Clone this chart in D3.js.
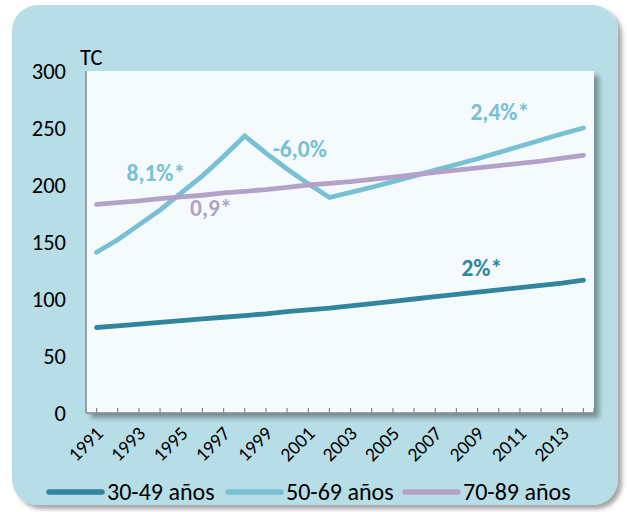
<!DOCTYPE html>
<html><head><meta charset="utf-8">
<script src="https://cdn.jsdelivr.net/npm/d3@7"></script>
<style>
html,body{margin:0;padding:0;background:#fff;}
svg{display:block;font-family:Carlito, Calibri, Lato, sans-serif;}
</style></head>
<body>
<svg id="chart" width="627" height="512"></svg>
<script>
const years = d3.range(1991, 2015);
const tickLabels = ["1991","1993","1995","1997","1999","2001","2003","2005","2007","2009","2011","2013"];
const yTicks = [0, 50, 100, 150, 200, 250, 300];
const seriesNames = ["30-49 años", "50-69 años", "70-89 años"];
const seriesColors = ["#31859c", "#78c0d4", "#b3a2c7"];
const s3049 = [75, 76.5, 78, 79.5, 81, 82.5, 84, 85.5, 87, 89, 90.5, 92, 94, 96, 98, 100, 102, 104, 106, 108, 110, 112, 114, 116.5];
const s5069 = [141, 152, 165, 178, 193, 208, 225, 243, 228, 214, 201, 189, 193.5, 198, 203, 208, 213, 218, 223, 228.5, 234, 239.5, 245, 250];
const s7089 = [183, 184.5, 186, 188, 189.5, 191, 193, 194.5, 196, 198, 200, 201.5, 203, 205, 207, 209, 211, 213, 215, 217, 219, 221, 223.5, 226];
const annotations = [
  {text: "8,1%*", year: 1993.8, value: 211, series: 1},
  {text: "0,9*", year: 1996.4, value: 180, series: 2},
  {text: "-6,0%", year: 2000.6, value: 232, series: 1},
  {text: "2,4%*", year: 2010.05, value: 264, series: 1},
  {text: "2%*", year: 2009.2, value: 127, series: 0}
];

const svg = d3.select("#chart");
const defs = svg.append("defs");
const f1 = defs.append("filter").attr("id","sh").attr("x","-5%").attr("y","-5%").attr("width","115%").attr("height","115%");
f1.append("feDropShadow").attr("dx",4).attr("dy",4).attr("stdDeviation",2).attr("flood-color","#000").attr("flood-opacity",0.35);
const f2 = defs.append("filter").attr("id","sh2").attr("x","-5%").attr("y","-5%").attr("width","115%").attr("height","115%");
f2.append("feDropShadow").attr("dx",5).attr("dy",5).attr("stdDeviation",2.5).attr("flood-color","#000").attr("flood-opacity",0.35);

// outer panel
svg.append("rect").attr("x",12).attr("y",5).attr("width",606).attr("height",500)
  .attr("rx",26).attr("ry",26).attr("fill","#b7dde6").attr("filter","url(#sh)");

const L = 86, R = 594, T = 71, B = 413;
svg.append("rect").attr("x",L).attr("y",T).attr("width",R-L).attr("height",B-T)
  .attr("fill","#f5fbfc").attr("filter","url(#sh2)");

const x = d3.scalePoint().domain(years).range([L, R]).padding(0.5);
const y = d3.scaleLinear().domain([0, 300]).range([B, T]);

// axes lines
svg.append("line").attr("x1",L).attr("x2",L).attr("y1",T).attr("y2",B).attr("stroke","#868686").attr("stroke-width",1.5);
svg.append("line").attr("x1",L).attr("x2",R).attr("y1",B).attr("y2",B).attr("stroke","#868686").attr("stroke-width",1.5);

// x ticks
const tickXs = years.map(d => x(d)).concat([R]);
svg.append("g").selectAll("line").data(tickXs).join("line")
  .attr("x1",d=>d).attr("x2",d=>d).attr("y1",B-5).attr("y2",B).attr("stroke","#868686").attr("stroke-width",1.2);

// x labels
svg.append("g").selectAll("text").data(tickLabels).join("text")
  .attr("transform", d => `translate(${x(+d)-2},${B+12}) rotate(-45)`)
  .attr("text-anchor","end").attr("dy","0.7em")
  .attr("font-size",19.5).attr("fill","#000").text(d=>d);

// y labels
svg.append("g").selectAll("text").data(yTicks).join("text")
  .attr("x",66).attr("y",d=>y(d)).attr("dy","0.35em").attr("text-anchor","end")
  .attr("font-size",22.5).attr("fill","#000").text(d=>d);

svg.append("text").attr("x",80).attr("y",65).attr("font-size",22.5).attr("fill","#000").text("TC");

// lines
const allSeries = [s3049, s5069, s7089];
const line = d3.line().x((d,i)=>x(years[i])).y(d=>y(d));
svg.append("g").selectAll("path").data(allSeries).join("path")
  .attr("d", d=>line(d)).attr("fill","none")
  .attr("stroke",(d,i)=>seriesColors[i]).attr("stroke-width",4.8)
  .attr("stroke-linecap","round").attr("stroke-linejoin","miter");

// annotations
const xc = d3.scaleLinear().domain([1991, 2014]).range([x(1991), x(2014)]);
svg.append("g").selectAll("text").data(annotations).join("text")
  .attr("x", d=>xc(d.year)).attr("y", d=>y(d.value)).attr("dy","0.35em")
  .attr("text-anchor","middle").attr("font-weight","bold").attr("font-size",23.5)
  .attr("fill", d=>seriesColors[d.series]).text(d=>d.text);

// legend
const legX = [49, 228, 405];
const lg = svg.append("g").selectAll("g").data(seriesNames).join("g")
  .attr("transform",(d,i)=>`translate(${legX[i]},492)`);
lg.append("line").attr("x1",0).attr("x2",53).attr("y1",0).attr("y2",0)
  .attr("stroke",(d,i)=>seriesColors[i]).attr("stroke-width",5.5).attr("stroke-linecap","round");
lg.append("text").attr("x",58).attr("y",0).attr("dy","0.35em").attr("font-size",24).attr("fill","#000").text(d=>d);
</script>
</body></html>
